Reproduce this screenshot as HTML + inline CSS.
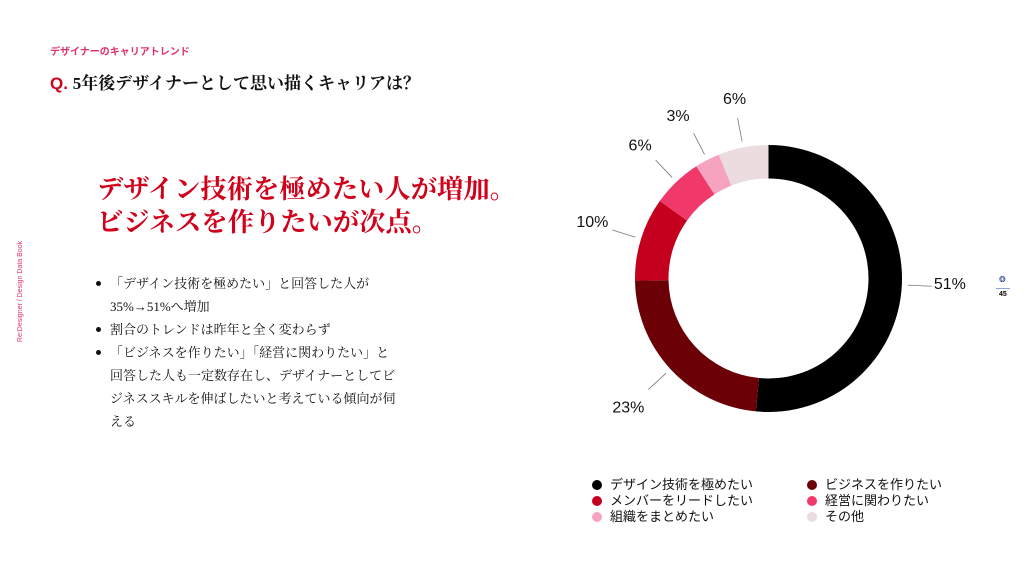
<!DOCTYPE html>
<html><head><meta charset="utf-8">
<style>
body{margin:0;width:1024px;height:576px;background:#fff;position:relative;overflow:hidden;font-family:"Liberation Sans","Noto Sans CJK JP",sans-serif;}
.abs{position:absolute;white-space:nowrap;}
.serif{font-family:"Liberation Serif","Noto Serif CJK SC",serif;}
ul{margin:0;padding:0;list-style:none;}
li{position:relative;padding-left:14px;}
li:before{content:"";position:absolute;left:0;top:9px;width:5px;height:5px;border-radius:50%;background:#111;}
</style></head><body>
<div class="abs" style="left:50px;top:43px;font-size:10px;font-weight:bold;color:#e0336a;">デザイナーのキャリアトレンド</div>
<div class="abs" style="left:50px;top:69px;font-size:17px;font-weight:bold;color:#111;"><span style="color:#d0021b;font-family:'Liberation Sans',sans-serif;">Q.</span> <span class="serif">5年後デザイナーとして思い描くキャリアは？</span></div>
<div class="abs" style="left:-30px;top:288px;transform:rotate(-90deg);font-size:7px;color:#e0336a;">Re:Designer / Design Data Book</div>
<div class="abs serif" style="left:97px;top:173px;font-size:26.3px;font-weight:bold;color:#d0021b;line-height:33px;">デザイン技術を極めたい人が増加。<br>ビジネスを作りたいが次点。</div>
<div class="abs serif" style="left:96px;top:272px;font-size:13px;line-height:23px;color:#111;">
<ul>
<li>「デザイン技術を極めたい」と回答した人が<br>35%→51%へ増加</li>
<li>割合のトレンドは昨年と全く変わらず</li>
<li>「ビジネスを作りたい」「経営に関わりたい」と<br>回答した人も一定数存在し、デザイナーとしてビ<br>ジネススキルを伸ばしたいと考えている傾向が伺<br>える</li>
</ul></div>
<svg id="chart" class="abs" style="left:0;top:0" width="1024" height="576"></svg>
<div class="abs" style="left:999px;top:275px;font-size:8px;color:#1a3a8a;">❂</div>
<div class="abs" style="left:996px;top:288px;width:14px;height:1px;background:#8aa6d8;"></div>
<div class="abs" style="left:999px;top:291px;font-size:7px;font-weight:bold;">45</div>
<div class="abs" style="left:592px;top:477px;font-size:13px;line-height:16px;color:#111;" id="legend"></div>
<script>
const categories=["デザイン技術を極めたい","ビジネスを作りたい","メンバーをリードしたい","経営に関わりたい","組織をまとめたい","その他"];
const values=[51,23,10,6,3,6];
const labels=["51%","23%","10%","6%","3%","6%"];
const colors=["#000000","#6b0007","#c4001e","#f0386b","#f5a3bf","#eadcdf"];
const cx=768.5,cy=278.5,R=133.5,r=100;
const svg=document.getElementById('chart');const NS="http://www.w3.org/2000/svg";
const total=values.reduce((a,b)=>a+b,0);
function pt(a,rad){return [cx+rad*Math.sin(a),cy-rad*Math.cos(a)];}
let acc=0;
values.forEach((v,i)=>{
 const a0=acc/total*2*Math.PI;acc+=v;const a1=acc/total*2*Math.PI;
 const large=(a1-a0)>Math.PI?1:0;
 const p0=pt(a0,R),p1=pt(a1,R),q1=pt(a1,r),q0=pt(a0,r);
 const p=document.createElementNS(NS,'path');
 p.setAttribute('d',`M${p0}A${R},${R} 0 ${large} 1 ${p1}L${q1}A${r},${r} 0 ${large} 0 ${q0}Z`);
 p.setAttribute('fill',colors[i]);
 
 
 svg.appendChild(p);
 const am=(a0+a1)/2;
 const l0=pt(am,R+6),l1=pt(am,R+30);
 const ln=document.createElementNS(NS,'line');
 ln.setAttribute('x1',l0[0]);ln.setAttribute('y1',l0[1]);ln.setAttribute('x2',l1[0]);ln.setAttribute('y2',l1[1]);
 ln.setAttribute('stroke','#777');ln.setAttribute('stroke-width','0.8');
 
 
 svg.appendChild(ln);
 const right=Math.sin(am)>0.2,left=Math.sin(am)<-0.2;
 const t=document.createElementNS(NS,'text');
 const tp=pt(am,R+46);
 t.setAttribute('x',right?l1[0]+2:(left?l1[0]-4:tp[0]));
 t.setAttribute('y',tp[1]+(Math.cos(am)<-0.5?12:2));
 t.setAttribute('text-anchor',right?'start':(left?'end':'middle'));
 t.setAttribute('font-size','16');t.setAttribute('fill','#111');
 t.setAttribute('font-family','Liberation Sans, sans-serif');
 t.textContent=labels[i];
 
 
 svg.appendChild(t);
});
const lg=document.getElementById('legend');
categories.forEach((c,i)=>{
 const d=document.createElement('div');
 d.style.cssText=`position:absolute;left:${(i%2)*215}px;top:${Math.floor(i/2)*16}px;white-space:nowrap;`;
 d.innerHTML=`<span style="display:inline-block;width:10px;height:10px;border-radius:50%;background:${colors[i]};margin-right:8px;vertical-align:-1px"></span>${c}`;
 
 
 lg.appendChild(d);
});
</script>
</body></html>
